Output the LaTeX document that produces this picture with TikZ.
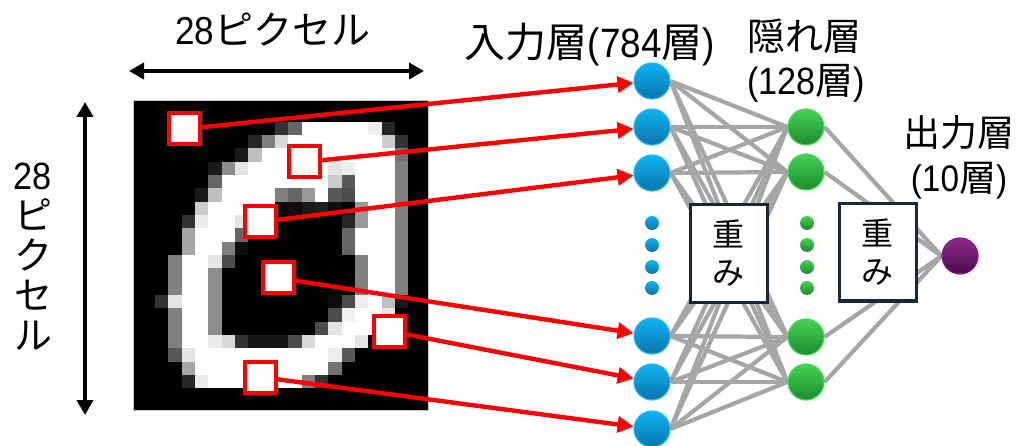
\documentclass[tikz,border=0pt]{standalone}
\usepackage{fontspec}
\setmainfont{Liberation Sans}[FakeStretch=0.9]
\newfontfamily\jpfont{Noto Sans CJK JP}
\newcommand\jtext[1]{{\jpfont #1}}
\usetikzlibrary{arrows.meta}
\definecolor{netgray}{HTML}{A6A6A6}
\definecolor{boxnavy}{HTML}{17283A}
\definecolor{pixred}{HTML}{FF0000}
\definecolor{blueTop}{HTML}{0DB4F2}
\definecolor{blueBot}{HTML}{0A74AC}
\definecolor{blueRim}{HTML}{22B9F2}
\definecolor{greenTop}{HTML}{44D354}
\definecolor{greenBot}{HTML}{1E8A2E}
\definecolor{greenRim}{HTML}{48D658}
\definecolor{purpTop}{HTML}{8C2A8F}
\definecolor{purpBot}{HTML}{4A0A4C}
\definecolor{purpRim}{HTML}{7E2481}
\pgfdeclarelayer{paper}
\pgfdeclarelayer{edges}
\pgfsetlayers{paper,edges,main}

\begin{document}
\begin{tikzpicture}[x=1pt,y=-1pt,
  lbl/.style={inner sep=0pt, font=\fontsize{37}{40}\selectfont},
  pixbox/.style={draw=pixred, fill=white, line width=4pt, minimum size=31pt, inner sep=0pt},
  redarrow/.style={draw=pixred, line width=4.4pt, -{Triangle[length=16pt,width=16pt]}},
  dimarrow/.style={line width=4pt, {Triangle[length=15pt,width=16pt]}-{Triangle[length=15pt,width=16pt]}},
  inunit/.style={circle, minimum size=36pt, inner sep=0pt, top color=blueTop, bottom color=blueBot, draw=blueRim, line width=1.2pt},
  hidunit/.style={circle, minimum size=36pt, inner sep=0pt, top color=greenTop, bottom color=greenBot, draw=greenRim, line width=1.2pt},
  outunit/.style={circle, minimum size=36pt, inner sep=0pt, top color=purpTop, bottom color=purpBot, draw=purpRim, line width=1.2pt},
  bluedot/.style={circle, minimum size=14pt, inner sep=0pt, top color=blueTop, bottom color=blueBot},
  greendot/.style={circle, minimum size=14pt, inner sep=0pt, top color=greenTop, bottom color=greenBot},
  netline/.style={draw=netgray, line width=4.2pt},
  wbox/.style={draw=boxnavy, fill=white, line width=3pt, minimum width=77pt, minimum height=97pt,
    inner sep=0pt, align=center, font=\fontsize{32}{38}\selectfont\jpfont}
]
\begin{pgfonlayer}{paper}
  \fill[white] (0,0) rectangle (1017,446);
\end{pgfonlayer}
\useasboundingbox (0,0) rectangle (1017,446);

% ---- 28x28 handwritten digit (grey levels in percent of white) ----
\fill[black] (133,101) rectangle (428,410);
\foreach \r/\vals in {
 1/{0,0,0,0,0,0,0,0,0,0,20,40,100,100,100,100,100,93,15,0,0},
 2/{0,0,0,0,0,0,0,0,15,50,85,100,100,100,100,100,100,100,80,20,0},
 3/{0,0,0,0,0,0,0,10,75,100,100,100,100,100,100,100,100,100,100,45,0},
 4/{0,0,0,0,0,10,55,90,100,100,100,100,100,100,90,93,100,100,100,50,0},
 5/{0,0,0,0,0,40,100,100,100,100,100,100,100,100,80,35,100,100,100,50,0},
 6/{0,0,0,0,10,75,100,100,100,100,50,40,60,100,35,30,100,100,100,50,0},
 7/{0,0,0,0,80,100,100,100,100,100,3,5,10,12,6,0,60,100,100,50,0},
 8/{0,0,0,20,92,100,100,90,100,0,0,0,0,0,0,15,60,100,100,50,0},
 9/{0,0,0,65,100,100,100,40,0,0,0,0,0,0,0,40,100,100,100,50,0},
 10/{0,0,0,65,100,100,50,5,0,0,0,0,0,0,0,40,100,100,100,50,0},
 11/{0,0,50,100,100,90,30,0,0,0,0,0,0,0,0,0,50,100,100,50,0},
 12/{0,0,50,100,100,55,0,0,0,0,0,0,0,0,0,0,50,100,100,50,0},
 13/{0,0,50,100,100,55,0,0,0,0,0,0,0,0,0,0,50,100,100,50,0},
 14/{0,20,90,100,100,55,0,0,0,0,0,0,0,0,5,30,93,100,75,10,0},
 15/{0,0,50,100,100,55,0,0,0,0,0,0,0,0,30,95,100,100,90,0,0},
 16/{0,0,50,100,100,55,0,0,0,0,0,0,0,30,90,100,100,100,0,0,0},
 17/{0,0,50,100,100,92,85,20,8,8,8,30,85,100,100,100,90,0,0,0,0},
 18/{0,0,35,90,100,100,100,100,100,100,100,100,100,100,93,35,0,0,0,0,0},
 19/{0,0,0,65,100,100,100,100,100,100,100,100,100,100,45,0,0,0,0,0,0},
 20/{0,0,0,15,92,100,100,100,100,100,100,100,50,20,0,0,0,0,0,0,0}}{
  \foreach \v [count=\c from 0] in \vals {
    \ifnum\v>0
      \fill[white!\v!black] ({141.67+13.333*\c},{108.33+13.333*\r}) rectangle ++(13.45,13.45);
    \fi
  }
}
\draw[gray!45, line width=1pt] (133,101) rectangle (428,410);

% ---- sampled pixels ----
\node[pixbox] (sq1) at (184,129) {};
\node[pixbox] (sq2) at (304,162) {};
\node[pixbox] (sq3) at (260,222) {};
\node[pixbox] (sq4) at (278,278) {};
\node[pixbox] (sq5) at (389,331) {};
\node[pixbox] (sq6) at (260,377) {};

% ---- size arrows and labels ----
\coordinate (topL) at (129,71);
\coordinate (topR) at (424,71);
\draw[dimarrow] (topL) -- (topR);
\coordinate (sideT) at (85,102);
\coordinate (sideB) at (85,415);
\draw[dimarrow] (sideT) -- (sideB);
\node[lbl, font=\fontsize{39}{40}\selectfont] (wlabel) at (273,30) {28\jtext{ピクセル}};
\node[lbl, align=center, font=\fontsize{38}{40}\selectfont] (hlabel) at (33,257) {28\\\jtext{ピ}\\\jtext{ク}\\\jtext{セ}\\\jtext{ル}};

% ---- network units ----
\node[inunit] (in1) at (652,81) {};
\node[inunit] (in2) at (652,127) {};
\node[inunit] (in3) at (652,173) {};
\node[inunit] (in4) at (652,336) {};
\node[inunit] (in5) at (652,382) {};
\node[inunit] (in6) at (652,429) {};
\foreach \y [count=\k] in {223,245,267,288}
  \node[bluedot] (bd\k) at (652,\y) {};

\node[hidunit] (h1) at (806,127) {};
\node[hidunit] (h2) at (806,172) {};
\node[hidunit] (h3) at (806,337) {};
\node[hidunit] (h4) at (806,382) {};
\foreach \y [count=\k] in {223,245,267,288}
  \node[greendot] (gd\k) at (807,\y) {};

\node[outunit] (o) at (960,256) {};

% ---- weights ----
\begin{pgfonlayer}{edges}
  \foreach \i in {1,...,6}
    \foreach \j in {1,...,4}
      \draw[netline] (in\i.east) -- (h\j.west);
  \foreach \j in {1,...,4}
    \draw[netline] (h\j.east) -- (o.west);
\end{pgfonlayer}
\node[wbox] (w1) at (728.5,253.5) {重\\み};
\node[wbox] (w2) at (877.5,252.5) {重\\み};

% ---- pixel to input connections ----
\draw[redarrow] (sq1) -- (in1);
\draw[redarrow] (sq2) -- (in2);
\draw[redarrow] (sq3) -- (in3);
\draw[redarrow] (sq4) -- (in4);
\draw[redarrow] (sq5) -- (in5);
\draw[redarrow] (sq6) -- (in6);

% ---- layer titles ----
\node[inner sep=0pt, font=\fontsize{41}{44}\selectfont] (tin) at (590,45) {\jtext{入力層}(784\jtext{層})};
\node[lbl, font=\fontsize{38}{40}\selectfont] (thid) at (804,36) {\jtext{隠れ層}};
\node[lbl, font=\fontsize{38}{40}\selectfont] (thid2) at (806,83) {(128\jtext{層})};
\node[lbl] (tout) at (959,133) {\jtext{出力層}};
\node[lbl] (tout2) at (959,181) {(10\jtext{層})};
\end{tikzpicture}
\end{document}
